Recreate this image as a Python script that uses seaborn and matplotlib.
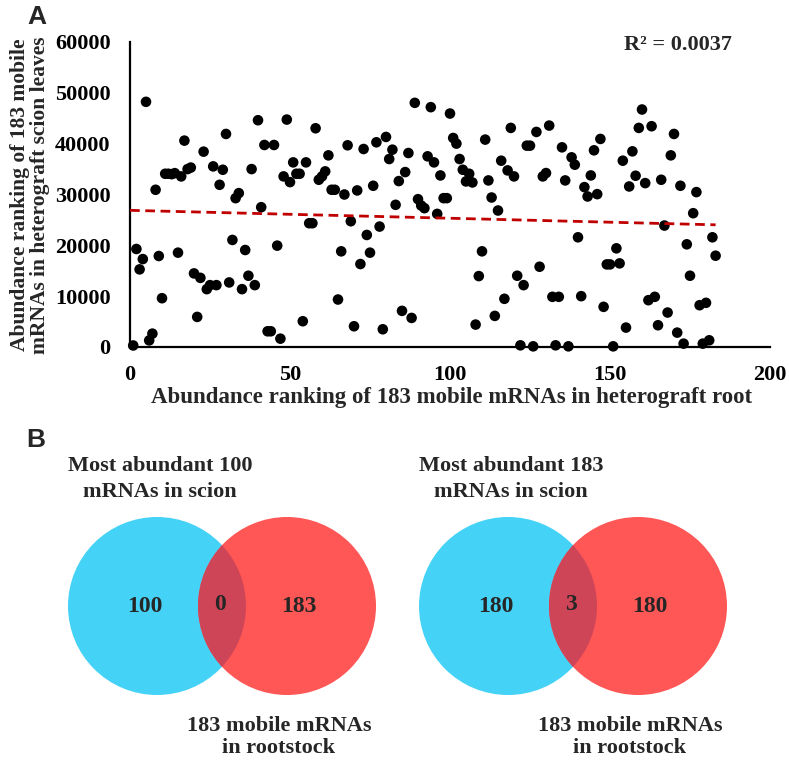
import numpy as np
import matplotlib
matplotlib.use("Agg")
import matplotlib.pyplot as plt
from matplotlib.patches import Circle
import seaborn as sns

# abundance ranking in heterograft root (x = 1..183) vs ranking in scion leaves
scion_rank = [
    300, 19280, 15270, 17300, 48230, 1300, 2630, 30930, 17900, 9600,
    34080, 34080, 34000, 34200, 18560, 33560, 40600, 35000, 35300, 14480,
    5920, 13600, 38430, 11380, 12170, 35530, 12170, 31910, 34870, 41910,
    12700, 21060, 29280, 30270, 11380, 19080, 14020, 35000, 12170, 44610,
    27500, 39740, 3090, 3090, 39740, 19940, 1640, 33560, 44740, 32440,
    36320, 34080, 34080, 5070, 36320, 24350, 24350, 43030, 32900, 33560,
    34550, 37700, 30930, 30930, 9340, 18820, 30000, 39680, 24740, 4080,
    30800, 16320, 38950, 22040, 18560, 31720, 40270, 23690, 3490, 41320,
    36980, 38820, 27970, 32640, 7110, 34410, 38160, 5720, 48030, 29080,
    27830, 27310, 37510, 47180, 36320, 26190, 33750, 29280, 29280, 45930,
    41120, 40010, 36980, 34870, 32570, 34080, 32370, 4410, 13950, 18820,
    40800, 32770, 29410, 6120, 26850, 36650, 9480, 34740, 43100, 33560,
    14020, 330, 12170, 39610, 39610, 130, 42310, 15790, 33560, 34220,
    43560, 9870, 330, 9870, 39280, 32770, 130, 37310, 35860, 21580,
    10000, 31450, 29610, 33750, 38690, 30070, 40930, 7900, 16250, 16250,
    130, 19410, 16450, 36650, 3820, 31580, 38490, 33690, 43100, 46720,
    32240, 9210, 43430, 9870, 4280, 32900, 23890, 6780, 37700, 41910,
    2830, 31720, 660, 20200, 14020, 26320, 30470, 8220, 660, 8690,
    1320, 21580, 17960,
]
root_rank = np.arange(1, len(scion_rank) + 1)
r2_text = "R² = 0.0037"

# venn counts: (scion only, shared, rootstock only)
venn_left = [100, 0, 183]
venn_right = [180, 3, 180]
venn_titles = ["Most abundant 100\nmRNAs in scion", "Most abundant 183\nmRNAs in scion"]
venn_bottom = "183 mobile mRNAs\nin rootstock"

sns.set_style("white")
plt.rcParams["font.family"] = ["Liberation Serif", "DejaVu Serif"]
plt.rcParams["font.weight"] = "bold"

W, H = 789, 760
fig = plt.figure(figsize=(W / 100, H / 100), dpi=100)

# ---- panel A
ax = fig.add_axes([130 / W, 1 - 347 / H, 640 / W, 305 / H])
sns.scatterplot(x=root_rank, y=scion_rank, ax=ax, color="black", s=58,
                edgecolor="none", clip_on=False, zorder=3)
k, b = np.polyfit(root_rank, scion_rank, 1)
xf = np.array([0, root_rank.max()])
ax.plot(xf, k * xf + b, color="#C00000", lw=2, dashes=(3.5, 2), zorder=4)

ax.set_xlim(0, 200)
ax.set_ylim(0, 60000)
ax.set_xticks(range(0, 201, 50))
ax.set_yticks(range(0, 60001, 10000))
for s in ["top", "right"]:
    ax.spines[s].set_visible(False)
for s in ["left", "bottom"]:
    ax.spines[s].set_linewidth(1.6)
    ax.spines[s].set_color("black")
ax.tick_params(axis="both", direction="out", length=5, width=1.6,
               labelsize=16, colors="black")
ax.tick_params(axis="y", pad=9)
ax.tick_params(axis="x", pad=8)
ax.set_xlabel("Abundance ranking of 183 mobile mRNAs in heterograft root",
              fontsize=16.5, fontweight="bold", va="baseline")
ax.xaxis.set_label_coords(0.502, (347 - 403) / 305)
ax.set_ylabel("Abundance ranking of 183 mobile\nmRNAs in heterograft scion leaves",
              fontsize=15.5, fontweight="bold", va="center", linespacing=0.95)
ax.yaxis.set_label_coords((30 - 130) / 640, (347 - 195) / 305)
ax.text(0.94, 0.99, r2_text, transform=ax.transAxes, ha="right", va="center",
        fontsize=16, fontweight="bold")

# ---- panel B (pixel coordinates)
axb = fig.add_axes([0, 0, 1, 1])
axb.set_xlim(0, W)
axb.set_ylim(H, 0)
axb.axis("off")

blue = "#44D2F7"
red = "#FF5656"
mix = "#CF4558"
r = 89
cy = 606
for cx, counts, title in [(157, venn_left, venn_titles[0]),
                          (508, venn_right, venn_titles[1])]:
    c1 = Circle((cx, cy), r, color=blue, lw=0)
    c2 = Circle((cx + 130, cy), r, color=red, lw=0)
    axb.add_patch(c1)
    axb.add_patch(c2)
    lens = Circle((cx + 130, cy), r, color=mix, lw=0)
    axb.add_patch(lens)
    lens.set_clip_path(c1)
    axb.text(cx - 12, cy, str(counts[0]), ha="center", va="center", fontsize=17)
    axb.text(cx + 63, cy - 2, str(counts[1]), ha="center", va="center", fontsize=17)
    axb.text(cx + 142, cy, str(counts[2]), ha="center", va="center", fontsize=17)
    axb.text(cx + 3, 479, title, ha="center", va="center", fontsize=16,
             linespacing=1.4)
    axb.text(cx + 122, 737, venn_bottom, ha="center", va="center", fontsize=16,
             linespacing=1.15)

fig.text(36.5 / W, 1 - 17 / H, "A", fontsize=19, fontweight="bold",
         family="Liberation Sans", ha="center", va="center")
fig.text(36 / W, 1 - 440 / H, "B", fontsize=19, fontweight="bold",
         family="Liberation Sans", ha="center", va="center")

fig.savefig("out.png", dpi=100)
